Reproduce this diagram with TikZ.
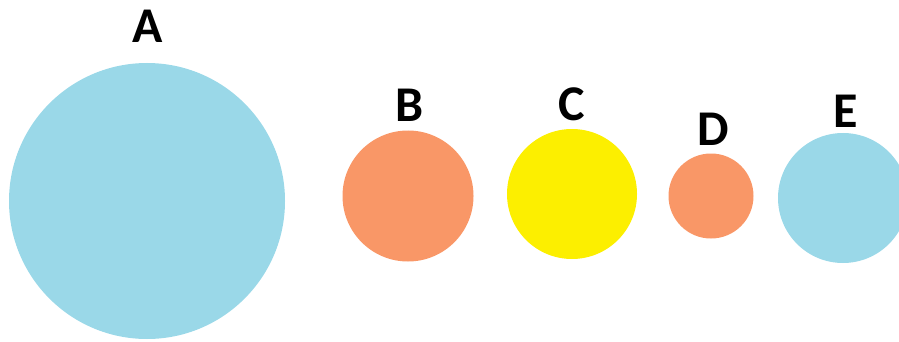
\documentclass[tikz,border=0pt]{standalone}
\usepackage{fontspec}
\setmainfont{Carlito}
\usepackage{tikz}
\usetikzlibrary{positioning}
\definecolor{skyblue}{HTML}{9AD8E8}
\definecolor{salmon}{HTML}{F99767}
\definecolor{lemon}{HTML}{FCEF00}

\begin{document}
\begin{tikzpicture}[
    x=1pt, y=-1pt,
    ball/.style={circle, inner sep=0pt, draw=none},
    tag/.style={inner sep=0pt, font=\fontsize{50}{50}\selectfont\bfseries},
]
\useasboundingbox (0,0) rectangle (899,342);
\node[ball, fill=skyblue, minimum size=276pt] (a) at (147,201) {};
\node[ball, fill=salmon, minimum size=131pt] (b) at (408,196) {};
\node[ball, fill=lemon, minimum size=130pt] (c) at (572,194) {};
\node[ball, fill=salmon, minimum size=85pt] (d) at (711,196) {};
\node[ball, fill=skyblue, minimum size=130pt] (e) at (843,198) {};

% Labels
\node[tag] (la) at (148,26) {A};
\node[tag] (lb) at (410,105) {B};
\node[tag] (lc) at (572,104) {C};
\node[tag] (ld) at (713,129) {D};
\node[tag] (le) at (846,111) {E};
\end{tikzpicture}
\end{document}
